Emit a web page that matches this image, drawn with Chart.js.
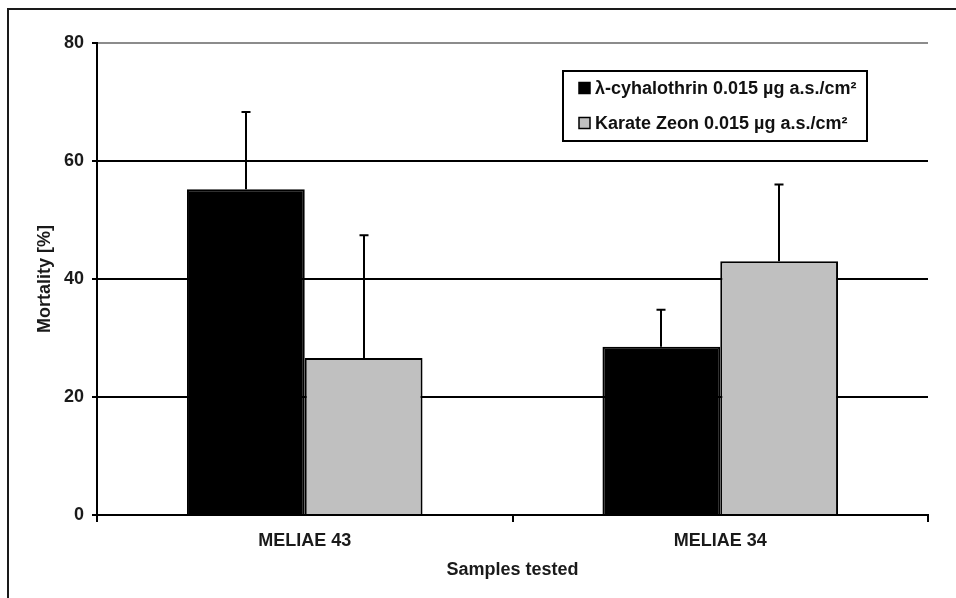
<!DOCTYPE html>
<html>
<head>
<meta charset="utf-8">
<script src="https://cdn.jsdelivr.net/npm/chart.js@4.4.1/dist/chart.umd.min.js"></script>
<style>
  html, body { margin: 0; padding: 0; background: #ffffff; }
  #wrap { width: 956px; height: 598px; position: relative; }
</style>
</head>
<body>
<div id="wrap"><canvas id="c" width="956" height="598"></canvas></div>
<script>
const categories = ['MELIAE 43', 'MELIAE 34'];
const seriesNames = ['λ-cyhalothrin 0.015 µg a.s./cm²', 'Karate Zeon 0.015 µg a.s./cm²'];
const lambdaValues = [55.2, 28.5];
const lambdaErrors = [13.1, 6.3];
const karateValues = [26.6, 43.0];
const karateErrors = [20.8, 13.0];
const yTicks = [0, 20, 40, 60, 80];
const xTitle = 'Samples tested';
const yTitle = 'Mortality [%]';

const FONT = 'Arial, "Liberation Sans", sans-serif';
const FSIZE = 18;

const framePlugin = {
  id: 'frame',
  beforeDraw(chart) {
    const ctx = chart.ctx;
    ctx.save();
    ctx.fillStyle = '#ffffff';
    ctx.fillRect(0, 0, chart.width, chart.height);
    ctx.strokeStyle = '#1a1a1a';
    ctx.lineWidth = 2;
    ctx.strokeRect(8, 9, chart.width + 20, chart.height + 20);
    ctx.restore();
  }
};

const errorBarPlugin = {
  id: 'errorBars',
  afterDatasetsDraw(chart) {
    const ctx = chart.ctx;
    const y = chart.scales.y;
    ctx.save();
    ctx.strokeStyle = '#000000';
    ctx.lineWidth = 2;
    chart.data.datasets.forEach((ds, di) => {
      const meta = chart.getDatasetMeta(di);
      meta.data.forEach((bar, i) => {
        const v = ds.data[i];
        const e = ds.errors[i];
        const x = Math.round(bar.x);
        const yTop = y.getPixelForValue(v + e);
        const yBase = y.getPixelForValue(v);
        ctx.beginPath();
        ctx.moveTo(x, yBase);
        ctx.lineTo(x, yTop);
        ctx.moveTo(x - 4.5, yTop);
        ctx.lineTo(x + 4.5, yTop);
        ctx.stroke();
      });
    });
    ctx.restore();
  }
};

const legendBoxPlugin = {
  id: 'legendBox',
  afterDraw(chart) {
    const ctx = chart.ctx;
    const bx = 563, by = 71, bw = 304, bh = 70;
    ctx.save();
    ctx.fillStyle = '#ffffff';
    ctx.fillRect(bx, by, bw, bh);
    ctx.strokeStyle = '#000000';
    ctx.lineWidth = 2;
    ctx.strokeRect(bx, by, bw, bh);
    ctx.font = 'bold ' + FSIZE + 'px ' + FONT;
    ctx.textBaseline = 'middle';
    ctx.textAlign = 'left';
    chart.data.datasets.forEach((ds, i) => {
      const cy = by + 17 + i * 35;
      ctx.fillStyle = ds.backgroundColor;
      ctx.fillRect(bx + 16, cy - 5.5, 11, 11);
      ctx.strokeStyle = '#000000';
      ctx.lineWidth = 1.5;
      ctx.strokeRect(bx + 16, cy - 5.5, 11, 11);
      ctx.fillStyle = '#111111';
      ctx.fillText(ds.label, bx + 32, cy + 1);
    });
    ctx.restore();
  }
};

new Chart(document.getElementById('c'), {
  type: 'bar',
  data: {
    labels: categories,
    datasets: [
      { label: seriesNames[0], data: lambdaValues, errors: lambdaErrors,
        backgroundColor: '#000000', borderColor: '#000000', borderWidth: 2,
        categoryPercentage: 0.567, barPercentage: 1.0 },
      { label: seriesNames[1], data: karateValues, errors: karateErrors,
        backgroundColor: '#c0c0c0', borderColor: '#000000', borderWidth: 2,
        categoryPercentage: 0.567, barPercentage: 1.0 }
    ]
  },
  options: {
    responsive: false,
    animation: false,
    devicePixelRatio: 1,
    layout: { padding: { top: 43, right: 28, left: 0, bottom: 0 } },
    plugins: {
      legend: { display: false },
      tooltip: { enabled: false }
    },
    scales: {
      x: {
        afterFit(scale) { scale.height = 83; },
        grid: {
          offset: true,
          drawOnChartArea: true,
          color: (ctx) => ctx.index === categories.length ? '#8c8c8c' : 'rgba(0,0,0,0)',
          tickColor: '#000000',
          lineWidth: 2,
          tickLength: 7
        },
        border: { display: true, color: '#000000', width: 2 },
        ticks: {
          color: '#1a1a1a',
          padding: 8,
          font: { family: FONT, size: FSIZE, weight: 'bold' }
        },
        title: {
          display: true,
          text: xTitle,
          color: '#1a1a1a',
          padding: { top: 0, bottom: 17 },
          font: { family: FONT, size: FSIZE, weight: 'bold' }
        }
      },
      y: {
        min: 0,
        max: 80,
        afterFit(scale) { scale.width = 97; },
        afterBuildTicks(scale) { scale.ticks = yTicks.map(v => ({ value: v })); },
        grid: {
          color: (ctx) => ctx.tick && ctx.tick.value === 80 ? '#8c8c8c' : '#000000',
          tickColor: '#000000',
          lineWidth: 2,
          tickLength: 5
        },
        border: { display: true, color: '#000000', width: 2 },
        ticks: {
          color: '#1a1a1a',
          padding: 8,
          font: { family: FONT, size: FSIZE, weight: 'bold' }
        },
        title: {
          display: true,
          text: yTitle,
          color: '#1a1a1a',
          padding: { top: 34, bottom: 0 },
          font: { family: FONT, size: FSIZE, weight: 'bold' }
        }
      }
    }
  },
  plugins: [framePlugin, errorBarPlugin, legendBoxPlugin]
});
</script>
</body>
</html>
